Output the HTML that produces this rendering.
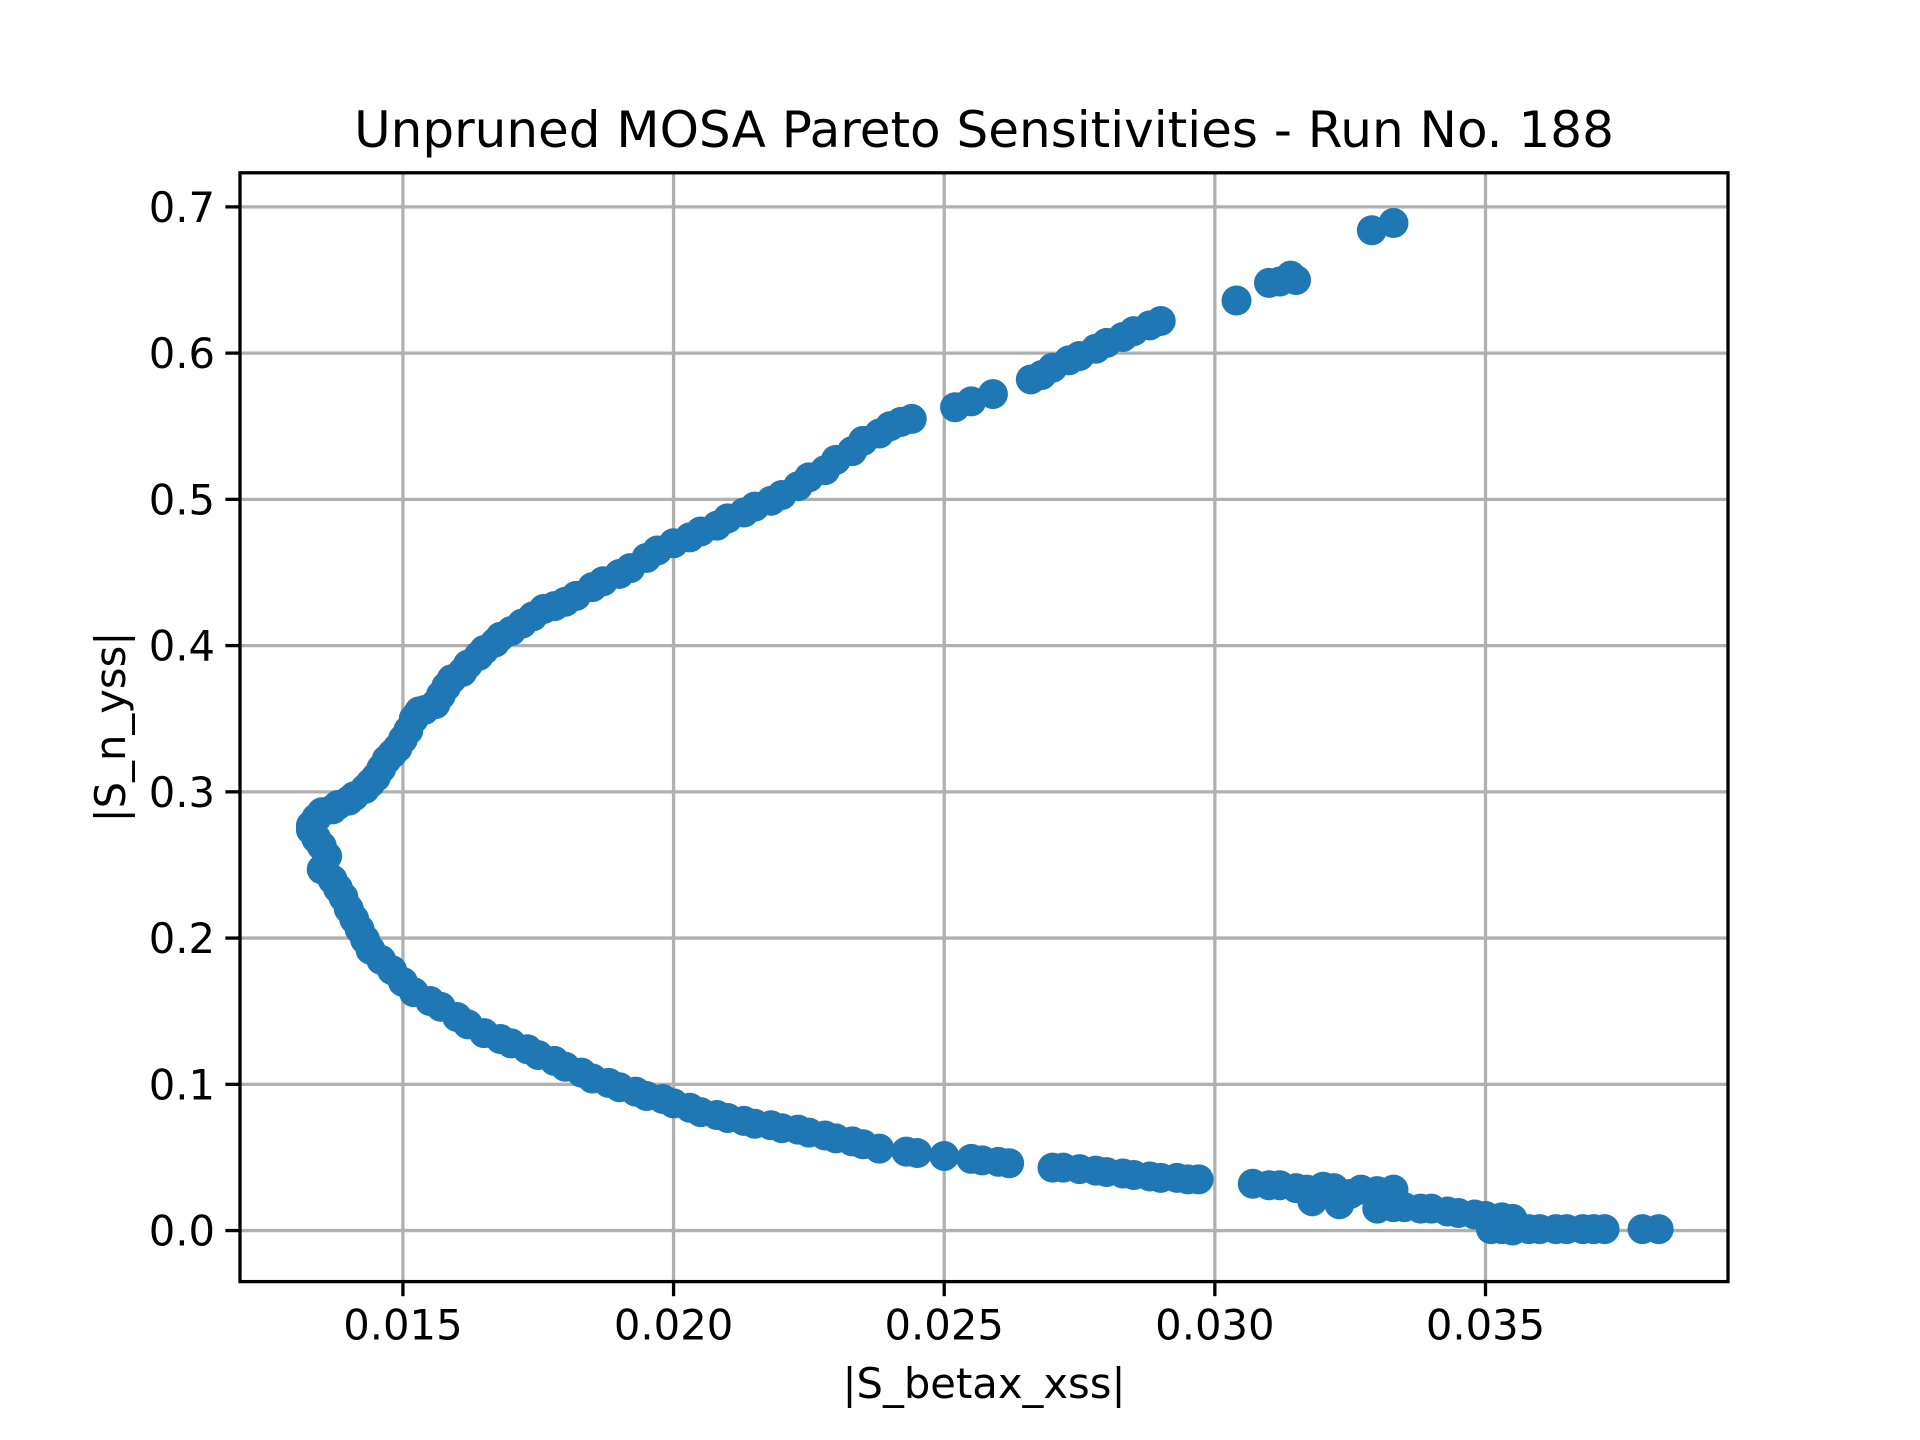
<!DOCTYPE html>
<html><head><meta charset="utf-8"><style>
html,body{margin:0;padding:0;background:#fff;}
svg{display:block;font-family:"DejaVu Sans","Liberation Sans",sans-serif;}
</style></head><body>
<svg id="chart" width="1920" height="1440" viewBox="0 0 1920 1440" xmlns="http://www.w3.org/2000/svg">
<rect width="1920" height="1440" fill="#fff"/>
<g id="grid"></g>
<g id="points"></g>
<rect x="240" y="172.8" width="1488" height="1108.8" fill="none" stroke="#000" stroke-width="3.3"/>
<g id="ticks"></g>
<text x="984" y="147" font-size="50" text-anchor="middle">Unpruned MOSA Pareto Sensitivities - Run No. 188</text>
<text x="984" y="1398" font-size="41.7" text-anchor="middle">|S_betax_xss|</text>
<text transform="translate(125,727) rotate(-90)" font-size="41.7" text-anchor="middle">|S_n_yss|</text>
</svg>
<script>
const xTicks=[0.015,0.020,0.025,0.030,0.035];
const xTickLabels=["0.015","0.020","0.025","0.030","0.035"];
const yTicks=[0,0.1,0.2,0.3,0.4,0.5,0.6,0.7];
const yTickLabels=["0.0","0.1","0.2","0.3","0.4","0.5","0.6","0.7"];
const upperX=[0.0133,0.0134,0.0135,0.0137,0.0138,0.0140,0.0141,0.0143,0.0144,0.0145,0.0146,0.0147,0.0148,0.0149,0.0150,0.0151,0.0152,0.0153,0.0154,0.0156,0.0157,0.0158,0.0159,0.0161,0.0162,0.0164,0.0165,0.0167,0.0168,0.0170,0.0172,0.0174,0.0176,0.0178,0.0180,0.0182,0.0185,0.0187,0.0190,0.0192,0.0195,0.0197,0.0200,0.0203,0.0205,0.0208,0.0210,0.0213,0.0215,0.0218,0.0220,0.0223,0.0225,0.0228,0.0230,0.0233,0.0235,0.0238,0.0240,0.0242,0.0244,0.0252,0.0255,0.0259,0.0266,0.0268,0.0270,0.0273,0.0275,0.0278,0.0280,0.0283,0.0285,0.0288,0.0290,0.0304,0.0310,0.0312,0.0314,0.0315,0.0329,0.0333];
const upperY=[0.277,0.282,0.286,0.288,0.291,0.294,0.297,0.302,0.306,0.310,0.316,0.322,0.326,0.330,0.336,0.342,0.350,0.355,0.356,0.360,0.366,0.372,0.377,0.382,0.387,0.393,0.397,0.402,0.406,0.410,0.415,0.420,0.425,0.427,0.430,0.434,0.440,0.444,0.449,0.453,0.460,0.465,0.470,0.474,0.478,0.482,0.487,0.491,0.495,0.499,0.503,0.509,0.515,0.520,0.527,0.533,0.540,0.545,0.550,0.553,0.555,0.563,0.567,0.572,0.582,0.585,0.590,0.595,0.598,0.603,0.607,0.611,0.615,0.619,0.622,0.636,0.648,0.649,0.653,0.650,0.684,0.689];
const lowerX=[0.0133,0.0134,0.0135,0.0136,0.0135,0.0137,0.0138,0.0139,0.0140,0.0141,0.0142,0.0143,0.0144,0.0146,0.0148,0.0150,0.0152,0.0155,0.0157,0.0160,0.0162,0.0165,0.0168,0.0170,0.0173,0.0175,0.0178,0.0180,0.0183,0.0185,0.0188,0.0190,0.0193,0.0195,0.0198,0.0200,0.0203,0.0205,0.0208,0.0210,0.0213,0.0215,0.0218,0.0220,0.0223,0.0225,0.0228,0.0230,0.0233,0.0235,0.0238,0.0243,0.0245,0.0250,0.0255,0.0257,0.0260,0.0262,0.0270,0.0272,0.0275,0.0278,0.0280,0.0283,0.0285,0.0288,0.0290,0.0293,0.0295,0.0297,0.0307,0.0310,0.0312,0.0315,0.0317,0.0318,0.0320,0.0322,0.0323,0.0325,0.0327,0.0330,0.0330,0.0333,0.0333,0.0335,0.0338,0.0340,0.0343,0.0345,0.0348,0.0350,0.0353,0.0355,0.0351,0.0353,0.0355,0.0358,0.0360,0.0363,0.0365,0.0368,0.0370,0.0372,0.0379,0.0382];
const lowerY=[0.274,0.268,0.263,0.256,0.247,0.240,0.234,0.228,0.220,0.213,0.206,0.199,0.192,0.185,0.178,0.170,0.163,0.157,0.153,0.146,0.141,0.135,0.131,0.128,0.124,0.120,0.116,0.112,0.108,0.104,0.101,0.098,0.095,0.092,0.090,0.087,0.084,0.081,0.079,0.077,0.075,0.073,0.072,0.070,0.069,0.067,0.065,0.063,0.061,0.059,0.056,0.054,0.053,0.051,0.049,0.048,0.047,0.046,0.043,0.043,0.042,0.041,0.040,0.039,0.038,0.037,0.036,0.036,0.035,0.035,0.032,0.031,0.031,0.029,0.028,0.020,0.030,0.029,0.018,0.025,0.028,0.027,0.015,0.028,0.016,0.016,0.015,0.015,0.013,0.012,0.011,0.010,0.009,0.008,0.001,0.001,0.000,0.001,0.001,0.001,0.001,0.001,0.001,0.001,0.001,0.001];
const X0=240,X1=1728,Y0=1281.6,Y1=172.8;
const xMin=0.01199,xMax=0.03948,yMin=-0.0349,yMax=0.7233;
function sx(v){return X0+(v-xMin)/(xMax-xMin)*(X1-X0);}
function sy(v){return Y0-(v-yMin)/(yMax-yMin)*(Y0-Y1);}
const NS="http://www.w3.org/2000/svg";
const grid=document.getElementById('grid'),ticks=document.getElementById('ticks'),pts=document.getElementById('points');
function mk(tag,attrs,parent){const e=document.createElementNS(NS,tag);for(const k in attrs)e.setAttribute(k,attrs[k]);parent.appendChild(e);return e;}
xTicks.forEach((t,i)=>{const x=sx(t);
 const g=mk('line',{x1:x,x2:x,y1:Y1,y2:Y0,stroke:'#b0b0b0','stroke-width':3.3},grid);
 
 
 const tk=mk('line',{x1:x,x2:x,y1:Y0,y2:Y0+14.6,stroke:'#000','stroke-width':3.3},ticks);
 
 
 const tl=mk('text',{x:x,y:Y0+58,'font-size':41.7,'text-anchor':'middle'},ticks);tl.textContent=xTickLabels[i];
 
 
});
yTicks.forEach((t,i)=>{const y=sy(t);
 const g=mk('line',{x1:X0,x2:X1,y1:y,y2:y,stroke:'#b0b0b0','stroke-width':3.3},grid);
 
 
 const tk=mk('line',{x1:X0-14.6,x2:X0,y1:y,y2:y,stroke:'#000','stroke-width':3.3},ticks);
 
 
 const tl=mk('text',{x:X0-25,y:y+15,'font-size':41.7,'text-anchor':'end'},ticks);tl.textContent=yTickLabels[i];
 
 
});
function drawSeries(xs,ys){xs.forEach((v,i)=>{
 const c=mk('circle',{cx:sx(v),cy:sy(ys[i]),r:15,fill:'#1f77b4'},pts);
 
 
});}
drawSeries(upperX,upperY);
drawSeries(lowerX,lowerY);
</script>
</body></html>
